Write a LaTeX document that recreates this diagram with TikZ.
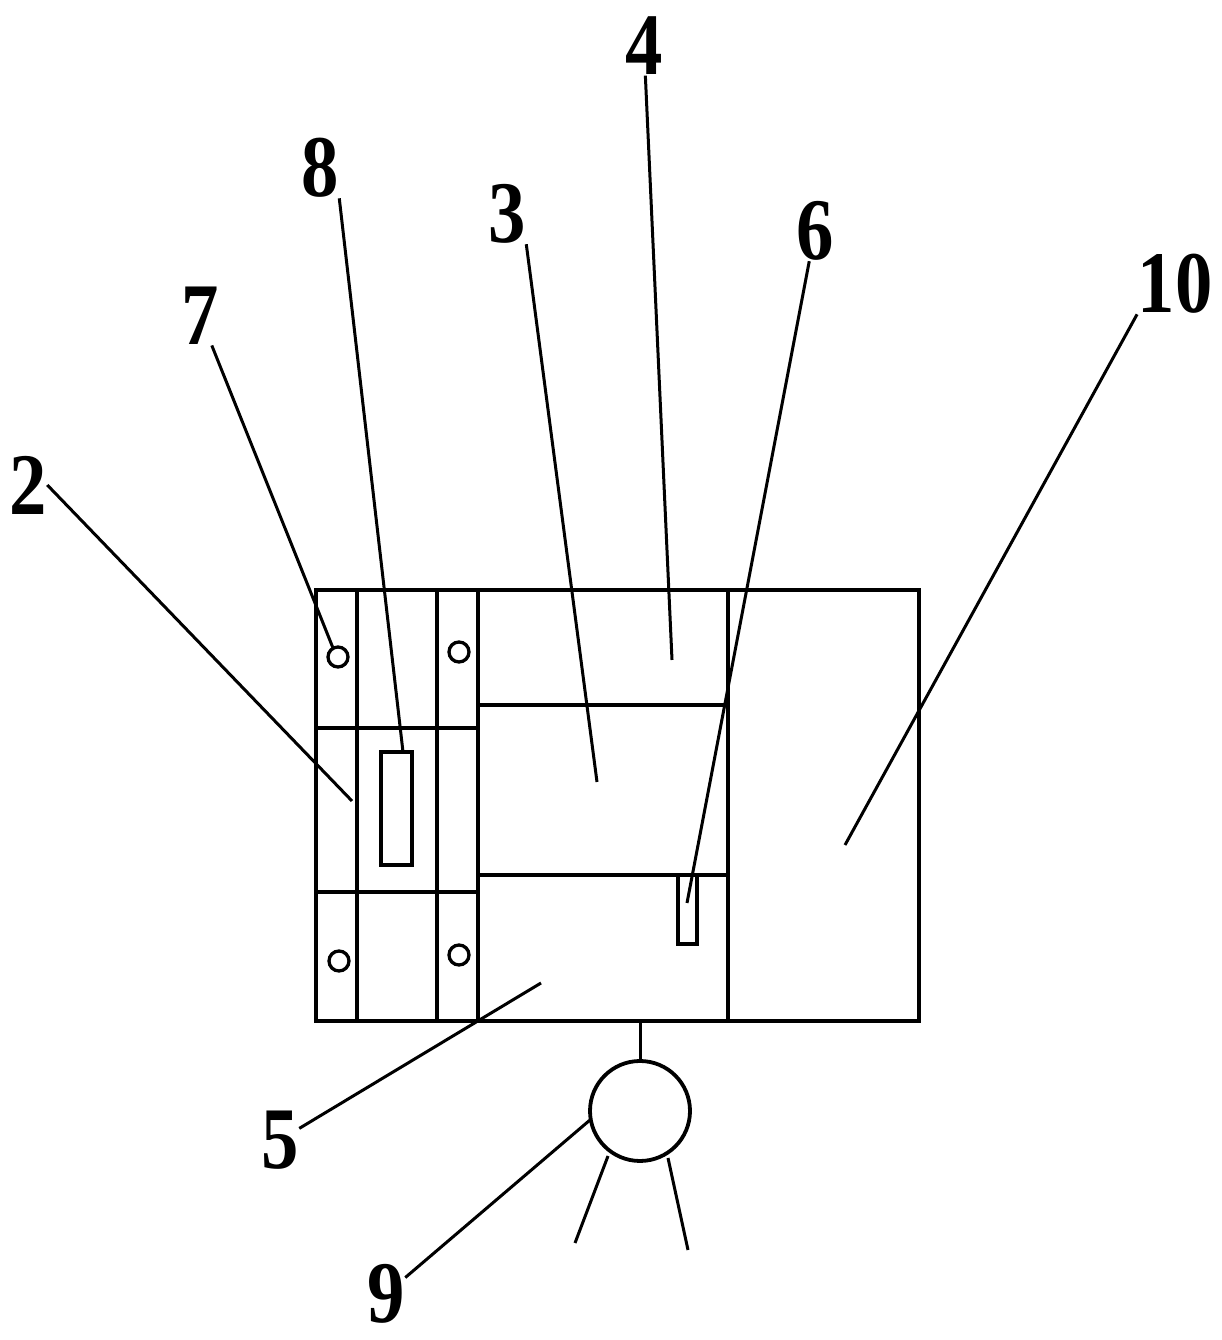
\documentclass[tikz,border=0pt]{standalone}
\usepackage{fontspec}
\setmainfont{Liberation Serif}
\tikzset{
  num/.style={font=\fontsize{25}{25}\selectfont\bfseries, inner sep=0pt, xscale=0.85},
  wall/.style={line width=0.38mm},
  lead/.style={line width=0.3mm},
  hole/.style={draw, circle, minimum size=0.2cm, inner sep=0pt, line width=0.33mm}
}
\begin{document}
\begin{tikzpicture}
\useasboundingbox (0, 0) rectangle (12.22, 13.4);
% housing
\draw[wall] (3.16, 7.5) rectangle (9.19, 3.19);
\draw[wall] (3.57, 7.5) -- (3.57, 3.19);
\draw[wall] (4.37, 7.5) -- (4.37, 3.19);
\draw[wall] (4.78, 7.5) -- (4.78, 3.19);
\draw[wall] (7.28, 7.5) -- (7.28, 3.19);
\draw[wall] (3.16, 6.12) -- (4.78, 6.12);
\draw[wall] (3.16, 4.48) -- (4.78, 4.48);
\draw[wall] (4.78, 6.35) -- (7.28, 6.35);
\draw[wall] (4.78, 4.65) -- (7.28, 4.65);
\draw[wall] (3.81, 5.88) rectangle (4.12, 4.75);
\draw[wall] (6.78, 4.65) rectangle (6.97, 3.96);
% holes
\node[hole] (hole1) at (3.38, 6.83) {};
\node[hole] (hole2) at (4.59, 6.88) {};
\node[hole] (hole3) at (3.39, 3.79) {};
\node[hole] (hole4) at (4.59, 3.85) {};
% lamp
\node[draw, wall, circle, minimum size=1cm, inner sep=0pt] (lamp) at (6.4, 2.29) {};
\coordinate (base) at (6.4, 3.19);
\draw[lead] (base) -- (lamp);
\coordinate (rayA) at (6.08, 1.84);
\coordinate (rayB) at (5.75, 0.97);
\coordinate (rayC) at (6.68, 1.82);
\coordinate (rayD) at (6.88, 0.9);
\draw[lead] (rayA) -- (rayB);
\draw[lead] (rayC) -- (rayD);
% labels
\node[num] (n2) at (0.28, 8.55) {2};
\node[num] (n7) at (2.0, 10.24) {7};
\node[num] (n8) at (3.2, 11.72) {8};
\node[num] (n3) at (5.07, 11.26) {3};
\node[num] (n4) at (6.44, 12.94) {4};
\node[num] (n6) at (8.15, 11.09) {6};
\node[num] (n10) at (11.75, 10.56) {10};
\node[num] (n5) at (2.8, 2.0) {5};
\node[num] (n9) at (3.86, 0.46) {9};
% leaders
\coordinate (end2) at (3.52, 5.39);
\coordinate (end7) at (3.33, 6.92);
\coordinate (end8) at (4.03, 5.88);
\coordinate (end3) at (5.97, 5.58);
\coordinate (end4) at (6.72, 6.8);
\coordinate (end6) at (6.87, 4.37);
\coordinate (end10) at (8.45, 4.95);
\coordinate (end5) at (5.41, 3.57);
\coordinate (end9) at (5.9, 2.2);
\draw[lead] (n2.east) -- (end2);
\draw[lead] (n7) -- (end7);
\draw[lead] (n8.south east) -- (end8);
\draw[lead] (n3.south east) -- (end3);
\draw[lead] (n4) -- (end4);
\draw[lead] (n6) -- (end6);
\draw[lead] (n10.south west) -- (end10);
\draw[lead] (n5) -- (end5);
\draw[lead] (n9) -- (end9);
\end{tikzpicture}
\end{document}
